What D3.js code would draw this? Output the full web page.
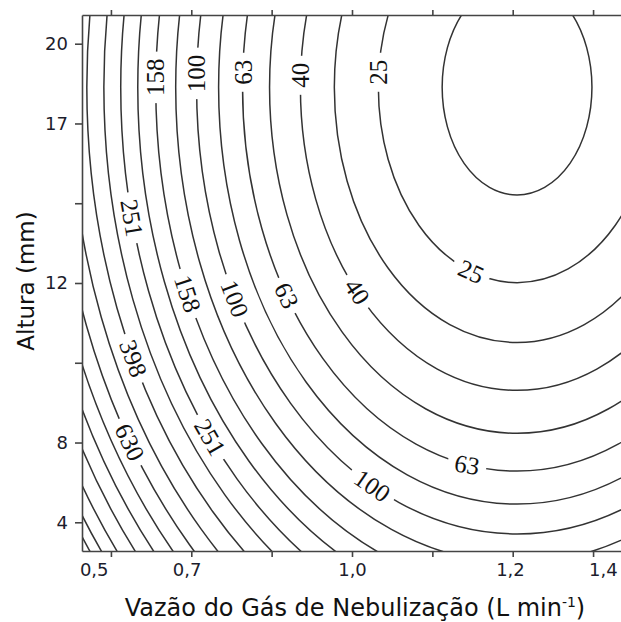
<!DOCTYPE html>
<html>
<head>
<meta charset="utf-8">
<script src="https://cdn.jsdelivr.net/npm/d3@7"></script>
<style>
  body { margin: 0; background: #fff; }
</style>
</head>
<body>
<svg id="svg_contour" width="621" height="622"></svg>
<script>
// the iso-lines of the figure are concentric ellipses; everything in coded units
// (x = gas flow, y = height). Centre and half axes.
const centre = [1.027, 1.227]
const contourLevels = [20, 25, 32, 40, 50, 63, 79, 100, 126, 158, 200, 251, 316, 398, 501, 630, 794, 1000, 1259, 1585, 1995, 2512]
const halfWidths = [0.466, 0.863, 1.137, 1.348, 1.540, 1.708, 1.857, 1.994, 2.124, 2.248, 2.360, 2.466, 2.571, 2.677, 2.783, 2.882, 2.975, 3.062, 3.149, 3.236, 3.311, 3.366]
const halfHeights = [0.675, 1.225, 1.600, 1.900, 2.169, 2.406, 2.613, 2.800, 2.981, 3.156, 3.313, 3.469, 3.613, 3.763, 3.913, 4.056, 4.188, 4.313, 4.431, 4.550, 4.656, 4.738]

// inline labels: level, centre of the text (coded units), angle of the text
const contourLabels = [
  { level: 158, x: -1.222, y: 1.289, angle: -90 },
  { level: 100, x: -0.967, y: 1.314, angle: -90 },
  { level: 63, x: -0.675, y: 1.321, angle: -90 },
  { level: 40, x: -0.321, y: 1.302, angle: -90 },
  { level: 25, x: 0.163, y: 1.321, angle: -90 },
  { level: 251, x: -1.370, y: 0.408, angle: 80 },
  { level: 158, x: -1.023, y: -0.067, angle: 72 },
  { level: 100, x: -0.730, y: -0.098, angle: 69 },
  { level: 63, x: -0.407, y: -0.079, angle: 65 },
  { level: 40, x: 0.032, y: -0.054, angle: 57 },
  { level: 25, x: 0.741, y: 0.071, angle: 24 },
  { level: 398, x: -1.361, y: -0.473, angle: 70 },
  { level: 630, x: -1.383, y: -0.998, angle: 65 },
  { level: 251, x: -0.883, y: -0.967, angle: 60 },
  { level: 100, x: 0.126, y: -1.271, angle: 35 },
  { level: 63, x: 0.716, y: -1.139, angle: 10 }
]

const xTicks = [-1.5, -1, -0.5, 0, 0.5, 1, 1.5]
const xTickLabels = ['0,5', '0,7', '1,0', '1,2', '1,4']
const xTickLabelAt = [-1.607, -1.029, 0, 0.983, 1.561]
const yTicks = [-1.5, -1, -0.5, 0, 0.5, 1, 1.5]
const yTickLabels = ['4', '8', '12', '17', '20']
const yTickLabelAt = [-1.5, -1, 0, 1, 1.5]

function drawChart() {
  const svg = d3.select('#svg_contour')

  const margin = { top: 15, left: 82 }
  const width = 540
  const height = 536

  const xScale = d3.scaleLinear()
    .domain([-1.68, 1.68])
    .range([margin.left, margin.left + width])

  const yScale = d3.scaleLinear()
    .domain([-1.68, 1.68])
    .range([margin.top + height, margin.top])

  const contours = contourLevels.map((level, i) => ({
    level: level,
    halfWidth: halfWidths[i],
    halfHeight: halfHeights[i]
  }))

  const defs = svg.append('defs')

  defs.append('clipPath')
    .attr('id', 'plotClip')
    .append('rect')
    .attr('x', margin.left)
    .attr('y', margin.top)
    .attr('width', width)
    .attr('height', height)

  const lineGroup = svg.append('g')
    .attr('clip-path', 'url(#plotClip)')

  lineGroup.selectAll('ellipse')
    .data(contours)
    .enter()
    .append('ellipse')
    .attr('cx', xScale(centre[0]))
    .attr('cy', yScale(centre[1]))
    .attr('rx', d => xScale(centre[0] + d.halfWidth) - xScale(centre[0]))
    .attr('ry', d => yScale(centre[1] - d.halfHeight) - yScale(centre[1]))
    .attr('fill', 'none')
    .attr('stroke', '#333')
    .attr('stroke-width', 1.5)
    .attr('mask', d => `url(#gap${d.level})`)

  // labels on the lines
  const labels = svg.append('g')
    .selectAll('text')
    .data(contourLabels)
    .enter()
    .append('text')
    .text(d => d.level)
    .attr('transform', d => `translate(${xScale(d.x)}, ${yScale(d.y)}) rotate(${d.angle})`)
    .attr('text-anchor', 'middle')
    .attr('dy', '0.34em')
    .attr('font-family', '"Liberation Serif", "Times New Roman", serif')
    .attr('font-size', 25)
    .attr('fill', '#111')

  // cut a gap in each line where its labels sit
  const textWidth = new Map()
  labels.each(function (d, i) { textWidth.set(i, this.getComputedTextLength()) })

  contours.forEach(c => {
    const mask = defs.append('mask')
      .attr('id', `gap${c.level}`)
      .attr('maskUnits', 'userSpaceOnUse')
      .attr('x', 0).attr('y', 0)
      .attr('width', 621).attr('height', 622)
    mask.append('rect')
      .attr('width', 621).attr('height', 622)
      .attr('fill', 'white')
    contourLabels.forEach((l, i) => {
      if (l.level !== c.level) return
      const w = textWidth.get(i) + 14
      mask.append('rect')
        .attr('x', -w / 2).attr('y', -7)
        .attr('width', w).attr('height', 14)
        .attr('transform', `translate(${xScale(l.x)}, ${yScale(l.y)}) rotate(${l.angle})`)
        .attr('fill', 'black')
    })
  })

  // axes
  const bottomAxis = d3.axisBottom(xScale).tickValues(xTicks).tickFormat('').tickSize(6).tickSizeOuter(0)
  const topAxis = d3.axisTop(xScale).tickValues(xTicks).tickFormat('').tickSize(5).tickSizeOuter(0)
  const leftAxis = d3.axisLeft(yScale).tickValues(yTicks).tickFormat('').tickSize(7).tickSizeOuter(0)

  const axisStyle = g => {
    g.selectAll('path, line').attr('stroke', '#444').attr('stroke-width', 1.6)
  }

  svg.append('g')
    .attr('transform', `translate(0, ${margin.top + height})`)
    .call(bottomAxis)
    .call(axisStyle)

  svg.append('g')
    .attr('transform', `translate(0, ${margin.top})`)
    .call(topAxis)
    .call(axisStyle)

  svg.append('g')
    .attr('transform', `translate(${margin.left}, 0)`)
    .call(leftAxis)
    .call(axisStyle)

  const tickFont = g => {
    g.select('.domain').remove()
    g.selectAll('text')
      .attr('font-family', '"DejaVu Sans", sans-serif')
      .attr('font-size', 18)
      .attr('fill', '#1c1c2c')
  }

  svg.append('g')
    .attr('transform', `translate(0, ${margin.top + height})`)
    .call(d3.axisBottom(xScale).tickValues(xTickLabelAt).tickSize(0).tickPadding(12)
      .tickFormat((d, i) => xTickLabels[i]))
    .call(tickFont)

  svg.append('g')
    .attr('transform', `translate(${margin.left}, 0)`)
    .call(d3.axisLeft(yScale).tickValues(yTickLabelAt).tickSize(0).tickPadding(14)
      .tickFormat((d, i) => yTickLabels[i]))
    .call(tickFont)

  // axis titles
  const xTitle = svg.append('text')
    .attr('x', 355)
    .attr('y', 616)
    .attr('text-anchor', 'middle')
    .attr('font-family', '"DejaVu Sans", sans-serif')
    .attr('font-size', 24)
    .attr('fill', '#111')
  xTitle.append('tspan').text('Vazão do Gás de Nebulização (L min')
  xTitle.append('tspan').text('-1').attr('font-size', 14).attr('dy', -9)
  xTitle.append('tspan').text(')').attr('dy', 9)

  svg.append('text')
    .attr('transform', 'translate(34, 281) rotate(-90)')
    .attr('text-anchor', 'middle')
    .attr('font-family', '"DejaVu Sans", sans-serif')
    .attr('font-size', 23)
    .attr('fill', '#111')
    .text('Altura (mm)')
}

drawChart()
</script>
</body>
</html>
